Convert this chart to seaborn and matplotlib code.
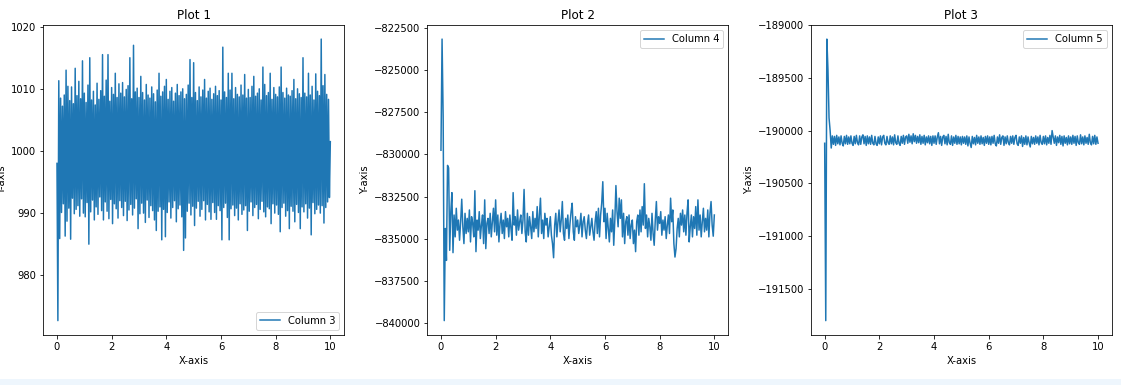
import matplotlib
matplotlib.use("Agg")
import matplotlib.pyplot as plt
from matplotlib.patches import Rectangle
import numpy as np
import seaborn as sns

# values, evenly spaced over 0..10
column3 = [
    998.0, 972.7, 1011.3, 985.9, 1008.5, 990.1, 1007.2, 991.5, 1009.0, 986.3, 1013.0, 988.7, 1010.4, 990.8, 1008.1,
    985.8, 1010.3, 992.4, 1007.6, 989.9, 1013.3, 990.6, 1008.9, 991.2, 1011.2, 989.5, 1008.4, 992.3, 1014.5, 990.0,
    1009.3, 989.4, 1007.8, 991.7, 1010.6, 985.0, 1015.0, 990.2, 1008.2, 992.1, 1009.6, 988.9, 1007.4, 991.0, 1010.9,
    989.8, 1008.3, 992.6, 1009.7, 990.4, 1015.5, 988.9, 1008.8, 991.8, 1011.4, 990.3, 1015.5, 989.1, 1008.0, 992.2,
    1010.2, 988.3, 1009.1, 991.5, 1012.5, 990.7, 1008.6, 989.2, 1010.8, 992.0, 1009.3, 990.9, 1011.0, 989.6, 1008.7,
    991.9, 1009.9, 988.8, 1010.5, 990.5, 1015.0, 991.4, 1008.4, 989.7, 1017.0, 990.8, 1009.5, 992.3, 1010.1, 987.5,
    1008.6, 989.9, 1012.0, 991.6, 1009.4, 990.0, 1008.2, 988.5, 1010.7, 992.1, 1009.0, 989.3, 1008.5, 991.2, 1010.3,
    990.4, 1009.2, 988.9, 1007.9, 987.2, 1009.8, 990.3, 1012.5, 991.0, 1008.8, 985.7, 1009.5, 990.6, 1010.4, 986.2,
    1011.5, 990.1, 1008.3, 991.8, 1009.6, 989.2, 1010.2, 990.9, 1008.0, 992.0, 1009.3, 988.6, 1010.7, 990.7, 1008.9,
    991.3, 1009.5, 989.4, 1010.0, 984.0, 1008.4, 986.0, 1009.1, 990.3, 1010.6, 991.6, 1014.7, 989.7, 1008.6, 991.1,
    1014.2, 988.0, 1009.4, 990.8, 1008.1, 991.9, 1010.3, 989.5, 1008.7, 990.6, 1009.8, 992.0, 1011.5, 988.9, 1008.5,
    991.4, 1009.6, 990.2, 1010.1, 989.0, 1008.3, 991.7, 1009.2, 990.1, 1010.4, 989.0, 1008.9, 991.2, 1009.7, 990.4,
    1008.2, 985.7, 1016.7, 990.9, 1009.5, 991.6, 1008.6, 989.3, 1012.5, 985.7, 1009.8, 990.7, 1012.5, 991.3, 1008.4,
    989.6, 1010.2, 990.8, 1009.1, 988.9, 1008.7, 991.5, 1010.6, 989.8, 1009.0, 990.5, 1012.3, 991.2, 1008.5, 987.2,
    1009.9, 990.3, 1008.6, 991.8, 1010.4, 989.6, 1012.0, 990.9, 1008.8, 991.4, 1009.3, 989.1, 1010.0, 990.6, 1008.2,
    991.9, 1013.5, 990.2, 1010.7, 989.4, 1008.9, 991.0, 1009.4, 990.7, 1012.5, 988.3, 1008.3, 991.5, 1010.2, 990.0,
    1009.1, 991.3, 1008.7, 989.8, 1010.3, 987.0, 1013.5, 990.9, 1009.4, 991.6, 1008.5, 989.5, 1010.1, 990.4, 1009.0,
    987.5, 1008.8, 991.1, 1009.7, 990.3, 1011.5, 988.6, 1008.4, 991.4, 1010.0, 990.1, 1009.2, 987.5, 1008.6, 991.0,
    1015.0, 990.2, 1009.3, 991.5, 1008.7, 989.2, 1012.5, 990.8, 1009.0, 986.5, 1010.4, 991.7, 1008.2, 989.9, 1012.4,
    990.6, 1009.6, 991.3, 1008.9, 990.0, 1018.0, 991.2, 1010.5, 988.4, 1012.3, 990.9, 1009.1, 991.8, 1008.3, 992.5,
    1001.5,
]

column4 = [
    -829750, -823140, -827750, -839880, -834400, -836300, -830650, -830800, -835700, -833400,
    -832270, -835840, -833600, -834900, -833200, -834500, -833900, -835100, -834000, -832660,
    -834300, -835300, -833500, -834700, -833800,
    -834600, -833300, -835200, -833700, -834100, -834900, -832155, -835780, -833900, -834500,
    -833400, -835000, -834200, -833600, -835300, -832700, -835600, -834100, -833800, -834700,
    -833500, -834900, -834000, -833200, -834600,
    -832700, -834800, -833600, -835200, -834100, -833500, -834700, -833900, -835000, -833400,
    -834300, -833800, -834900, -833600, -834400, -835100, -832270, -834200, -833700, -834800,
    -833300, -834500, -834000, -833600, -834700,
    -833900, -832080, -834600, -835200, -833500, -834800, -833700, -834300, -835000, -833400,
    -834600, -833800, -834400, -833100, -834900, -833600, -832600, -834700, -833900, -835000,
    -833500, -834200, -833800, -834900, -834300,
    -833700, -834800, -835300, -836140, -834200, -833500, -834900, -834000, -833300, -834600,
    -833900, -832800, -834700, -835100, -833800, -834400, -833600, -835000, -834100, -833400,
    -832900, -834600, -835100, -833700, -834300,
    -833900, -834700, -834200, -833500, -834900, -834000, -833700, -834500, -835000, -834100,
    -833600, -834800, -834300, -833800, -834600, -835100, -834000, -833400, -834700, -833200,
    -834900, -833600, -832900, -831620, -834000,
    -833200, -835000, -833500, -834400, -835200, -833800, -834600, -833300, -835400, -833900,
    -831850, -833400, -834300, -832600, -833800, -832700, -834900, -833500, -835300, -834000,
    -833700, -834800, -833600, -835000, -834200,
    -833900, -835300, -834500, -835780, -834000, -833600, -834800, -833300, -834600, -833100,
    -834200, -831740, -834400, -833600, -834900, -833800, -834300, -835100, -833500, -834700,
    -835400, -833900, -832800, -834500, -833700,
    -834100, -833400, -834800, -833900, -834500, -833700, -835000, -834200, -833600, -834700,
    -832600, -834000, -833300, -835300, -836100, -835600, -834400, -833800, -834900, -833500,
    -834200, -833300, -834600, -833600, -834800,
    -833500, -832700, -835200, -834300, -833600, -834900, -833700, -834400, -833100, -834800,
    -832700, -834500, -833600, -834900, -834000, -833200, -834600, -833800, -834500, -833300,
    -834900, -833500, -832800, -834200, -834860, -833600,
]

column5 = [
    -190120, -191800, -189133, -189420, -189880, -190000, -190165, -190050, -190130, -190055,
    -190140, -190045, -190125, -190060, -190135, -190050, -190120, -190145, -190055, -190125,
    -190045, -190130, -190060, -190125, -190050,
    -190120, -190140, -190055, -190125, -190045, -190115, -190135, -190050, -190130, -190060,
    -190040, -190125, -190055, -190140, -190050, -190125, -190060, -190130, -190045, -190120,
    -190135, -190055, -190125, -190140, -190060,
    -190125, -190050, -190135, -190060, -190045, -190120, -190135, -190055, -190115, -190130,
    -190050, -190125, -190060, -190135, -190040, -190115, -190130, -190050, -190120, -190140,
    -190055, -190120, -190045, -190130, -190060,
    -190050, -190120, -190035, -190110, -190050, -190125, -190030, -190105, -190045, -190120,
    -190055, -190115, -190040, -190130, -190055, -190120, -190045, -190135, -190060, -190115,
    -190050, -190125, -190055, -190140, -190050,
    -190120, -190050, -190130, -190060, -190020, -190125, -190055, -190140, -190060, -190045,
    -190125, -190055, -190135, -190035, -190115, -190130, -190050, -190140, -190060, -190120,
    -190045, -190130, -190055, -190125, -190060,
    -190135, -190055, -190120, -190060, -190130, -190050, -190145, -190060, -190120, -190160,
    -190055, -190125, -190065, -190135, -190045, -190120, -190060, -190130, -190050, -190125,
    -190065, -190140, -190055, -190120, -190050,
    -190130, -190060, -190135, -190055, -190120, -190045, -190125, -190145, -190060, -190120,
    -190040, -190130, -190065, -190050, -190140, -190060, -190125, -190050, -190115, -190135,
    -190055, -190120, -190050, -190130, -190065,
    -190045, -190125, -190140, -190060, -190120, -190050, -190150, -190065, -190130, -190050,
    -190135, -190060, -190115, -190155, -190055, -190125, -190065, -190130, -190050, -190120,
    -190060, -190135, -190045, -190115, -190130,
    -190055, -190125, -190050, -190135, -190065, -190120, -190045, -190130, -190000, -190060,
    -190120, -190050, -190140, -190060, -190115, -190045, -190130, -190055, -190145, -190050,
    -190120, -190065, -190135, -190050, -190125,
    -190060, -190130, -190045, -190120, -190055, -190140, -190050, -190115, -190130, -190040,
    -190125, -190060, -190135, -190050, -190120, -190065, -190130, -190035, -190115, -190135,
    -190055, -190125, -190045, -190130, -190060, -190120,
]

series = [("Column 3", column3), ("Column 4", column4), ("Column 5", column5)]
titles = ["Plot 1", "Plot 2", "Plot 3"]
legend_locs = ["lower right", "upper right", "upper right"]

W, H = 1121, 385
fig = plt.figure(figsize=(W / 72, H / 72), dpi=72)
fig.patches.append(Rectangle((0, 0), 1, 6 / H, transform=fig.transFigure,
                             color="#eef6fd", zorder=-1))

lefts = [43.3, 427.3, 811.0]
for left, (name, vals), title, loc in zip(lefts, series, titles, legend_locs):
    ax = fig.add_axes([left / W, 50.3 / H, 300.7 / W, 309.7 / H])
    t = np.linspace(0, 10, len(vals))
    sns.lineplot(x=t, y=vals, ax=ax, label=name, color="#1f77b4",
                 linewidth=1.5, estimator=None, sort=False)
    ax.set_title(title)
    ax.set_xlabel("X-axis")
    ax.set_ylabel("Y-axis")
    ax.legend(loc=loc)

fig.savefig("out.png", dpi=72)
